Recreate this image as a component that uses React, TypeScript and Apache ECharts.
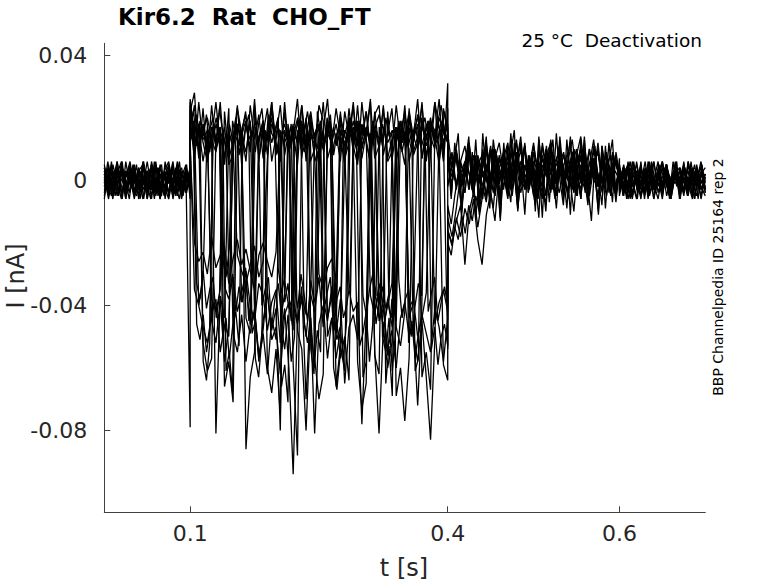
import React, { useEffect, useRef } from "react";
import * as echarts from "echarts";

// Sweep values in pA (1e-3 nA); each sweep has four recorded segments:
// pre 0–0.1 s, step 0.1–0.4 s, tail 0.4–0.6 s, post 0.6–0.7 s
const segmentWindows: [number, number][] = [
  [0, 0.1],
  [0.1, 0.4],
  [0.4, 0.6],
  [0.6, 0.7],
];

const sweep1 = {
  pre: [2, -4, 5, -1, -6, 3, 0, -5, 4, -2, 6, -3, 1, -6, 2, -1, 5, -4, 3, -2, 0],
  step: [16, 24, 7, 18, 6, 14, 25, 11, 17, 5, 8, 23, 15, 6, 24, 13, 21, 7, 15, 25, 8, 16, -32, -41, -37, 14, 24, 6, 20, 13, 5, 16, 26, 8, 15, 6, 22, 14, 25, 7, 16, 13, 5, 21, 24, 8, 15, 23, 6, 14, 22, -44, -39, 12, 24, 7, 19, 14, 5, 23, 15],
  tail: [7, 1, 9, -3, 4, 12, 0, 6, -5, 3, 10, -1, 8, 2, -6, 5, 13, 1, -3, 7, 4, -2, 11, 3, -4, 6, 9, 0, 5, -3, 8, 14, 2, -5, 4, 10, -1, 6, 3, -4, 2],
  post: [-3, 4, -6, 1, 5, -2, 3, -5, 0, 6, -4, 2, -1, 5, -6, 3, -3, 4, 1, -5, 2],
};
const sweep2 = {
  pre: [-3, 1, -6, 4, 0, -2, 5, -5, 2, -1, 3, -6, 4, -3, 1, 5, -4, 0, -5, 3, -2],
  step: [25, 8, 17, 6, 15, -38, -42, -35, 22, 7, 12, 24, 5, 18, 9, 26, 7, 15, 23, 6, 14, 24, 8, 16, -40, -46, -37, -43, 21, 6, 10, 25, 7, 12, 23, 14, 5, 20, 9, 24, 7, 15, 26, -36, -44, -39, 22, 6, 17, 10, 24, 6, 13, 21, 7, 18, 14, 25, 6, 16, 13],
  tail: [4, 9, -2, 6, 1, 11, -4, 5, 8, 0, -3, 7, 12, 2, -5, 6, 3, 10, -2, 4, 9, -6, 5, 1, 13, -1, 7, 3, -4, 8, 2, 11, 0, -3, 6, 9, 1, -5, 4, 7, 0],
  post: [4, -1, 3, -5, 6, -3, 0, 4, -6, 2, 5, -2, -4, 3, 1, -5, 6, -1, 2, -3, 0],
};
const sweep3 = {
  pre: [5, -2, 1, -5, 3, -6, 4, 0, -3, 6, -1, 2, -4, 5, -2, -6, 1, 4, -3, 2, 1],
  step: [14, 18, 11, 16, 20, 13, 9, 17, -34, -38, -31, -42, -36, -29, -40, -45, -33, -37, -48, -39, -35, -52, -41, -60, -94, -44, -38, -50, -36, -42, -31, -47, 15, 12, 18, 10, 16, 13, 19, 11, 17, 14, -37, -43, -33, -40, -56, -38, -45, 16, 12, 19, 14, 10, 17, 13, 20, 11, 15, 18, 12],
  tail: [-2, 5, 10, 1, -4, 8, 3, -1, 6, 12, 0, -5, 4, 9, 2, -3, 7, 11, -2, 5, 1, -6, 8, 3, 10, -1, 4, -4, 6, 13, 2, -3, 7, 0, 5, 9, -2, 3, -5, 6, 1],
  post: [-1, 3, -4, 6, 0, -5, 2, 4, -3, 1, -6, 5, -2, 3, 0, -4, 6, -1, -5, 2, 4],
};
const sweep4 = {
  pre: [-5, 2, -1, 4, -4, 1, 6, -3, 0, -6, 3, -2, 5, -1, -5, 2, -3, 6, 0, -4, 3],
  step: [13, 17, -40, -47, -52, -43, -38, -55, -46, -50, 14, 18, 10, -44, -49, -41, -58, -45, -36, -51, -47, -62, -43, -39, -48, 16, 12, 19, -42, -81, -46, -40, -57, -44, -49, -38, -65, -47, -43, -51, 13, 17, 11, 15, -45, -41, -54, -48, -60, -44, -39, -50, -46, -72, -43, -49, -55, -41, -47, -58, -44],
  tail: [-16, -21, -12, -18, -9, -14, -6, -19, -27, -11, -4, -13, 3, -2, 6, 1, 9, -2, 5, 0, 11, 3, -4, 7, 2, -1, 8, 4, -6, 5, 10, 1, -3, 6, 2, 12, -1, 4, -5, 7, 3],
  post: [2, -5, 4, -2, 0, 5, -4, 3, -6, 1, 4, -1, -3, 6, -2, 0, 3, -5, 5, -3, 1],
};
const sweep5 = {
  pre: [1, -6, 3, -2, 5, -4, 0, 2, -5, 4, -1, -3, 6, -6, 1, 3, -2, 5, -4, 0, -1],
  step: [18, 12, 15, -52, -61, -57, 14, 17, -66, -58, -71, 11, 16, -86, -63, -55, 13, 19, -60, -68, -54, -75, 15, 12, -59, -88, 17, 10, 14, -57, -70, -62, 16, 13, -66, -53, -61, 18, 11, -58, -73, -65, 14, -56, -62, 17, 12, 15, -69, -60, -77, -57, 13, 18, -63, -55, -67, 16, 11, -59, -64],
  tail: [5, -1, 8, 3, -4, 10, 2, 6, -2, 4, 11, -5, 7, 1, 9, -3, 5, 14, 0, -2, 6, 3, -6, 8, 12, 1, -4, 5, 9, -1, 3, 7, -3, 10, 2, -5, 6, 4, -1, 8, 2],
  post: [-4, 2, 5, -1, -6, 3, 0, -3, 6, -2, 4, -5, 1, 3, -4, 5, -1, -6, 2, 0, -2],
};
const sweep6 = {
  pre: [0, 4, -3, 6, -5, 2, -1, -4, 3, 5, -6, 1, -2, 4, -3, 0, 6, -5, 2, -1, 4],
  step: [22, 28, 8, 23, 6, 17, 11, 25, 7, 16, 10, -24, -29, -33, -27, -21, -31, -26, 7, 23, 12, 6, 25, 9, 16, 5, 24, 11, 17, 8, -30, -35, -28, -25, -32, 22, 7, 12, 24, 6, 18, 14, 25, 7, 11, 23, 6, 9, 24, 12, 5, 22, 14, 26, 7, 15, 8, 25, 17, 6, 23],
  tail: [9, 3, -1, 6, 11, 2, -4, 7, 1, 5, -2, 10, 4, -3, 8, 0, 6, 12, -1, 3, -5, 7, 2, 9, -2, 4, 11, 0, -4, 6, 3, 8, -1, 5, 13, 1, -3, 7, 2, -2, 4],
  post: [3, -2, 5, -4, 1, -6, 4, 0, -3, 2, 6, -1, -5, 3, -2, 5, 0, -4, 1, 4, -3],
};
const sweep7 = {
  pre: [-2, 5, -4, 1, 3, -6, 2, -1, 4, -3, 0, 5, -5, 2, -2, 3, -6, 1, 4, -3, -1],
  step: [10, -20, -26, -23, -30, -18, -28, -24, -21, -33, -25, -19, -27, -22, -29, -35, -24, -20, -26, -31, -23, 14, 18, 11, 16, 12, 19, 10, 15, 13, 17, -38, -45, -34, -41, 14, 11, 17, 13, 18, 10, 16, 12, -42, -36, -48, -39, -44, 15, 19, 12, 16, 9, 14, 18, 11, 17, 13, 20, 15, 12],
  tail: [3, 8, -3, 5, 1, 10, -2, 6, 4, -5, 9, 2, -1, 7, 12, 0, 5, -4, 3, 8, -2, 6, 1, 11, -3, 4, 7, -1, 2, 9, -5, 5, 3, 10, 0, -2, 6, 4, -4, 7, 1],
  post: [1, -4, 6, -2, 3, -5, 0, 4, -1, -6, 2, 5, -3, 1, -2, 4, -5, 3, 0, 6, -3],
};
const sweep8 = {
  pre: [4, -1, -5, 2, 6, -3, 1, -6, 3, 0, -4, 5, -2, 2, -5, 4, -1, 3, -6, 1, 2],
  step: [15, 11, 18, 13, 16, -45, -52, -38, -58, -47, 12, 17, 14, 9, 19, -41, -56, -49, -62, -44, -51, 13, 16, 11, 18, -48, -54, -80, -46, -59, 14, 10, 17, 12, -43, -57, -50, -64, 15, 19, 11, 16, 13, -55, -81, -47, -60, -52, 12, 18, 14, 10, -49, -58, -45, -63, -83, -51, 16, 13, -54],
  tail: [-12, -18, -9, 2, 6, -3, 8, 1, 4, -6, 10, 3, -1, 7, -4, 5, 12, 0, 2, -3, 9, 4, -2, 6, 11, -5, 3, 8, 0, -1, 5, 10, -4, 2, 7, -2, 4, 9, 1, -3, 3],
  post: [-3, 1, 4, -5, 2, -1, 6, -4, 0, 3, -2, 5, -6, 2, 4, -3, 1, -5, 3, -1, 2],
};
const sweep9 = {
  pre: [3, -5, 0, 6, -2, -4, 2, 5, -6, 1, -3, 4, 0, -5, 3, 6, -2, -4, 1, 5, -3],
  step: [19, 7, 25, 12, 6, 24, 10, 15, 5, 23, -49, -55, -43, -58, -46, 24, 6, 19, 8, 25, 11, 6, 22, 9, 15, 26, 7, 20, 6, 10, 24, 19, -50, -44, -57, -48, 7, 23, 11, 5, 25, 12, 6, 22, 10, 24, 7, 13, -47, -53, -42, 23, 8, 12, 25, 6, 18, 14, 26, 7, 31],
  tail: [15, 4, 9, -2, 6, 2, -5, 8, 3, 11, -1, 5, 0, 7, -4, 10, 2, 6, -3, 4, 12, 1, -2, 8, 3, -6, 5, 9, 0, 6, -3, 3, 10, -1, 7, 2, -4, 5, 8, -2, 1],
  post: [-1, 5, -3, 2, 0, -5, 4, -2, 6, -4, 1, 3, -6, 2, -1, 5, -3, 0, 4, -2, -5],
};
const sweep10 = {
  pre: [-4, 3, 1, -2, 5, -5, 0, 4, -3, 2, -6, 6, -1, -4, 3, 1, -5, 2, -2, 4, -79],
  step: [13, -35, -40, -31, 17, 12, -81, -37, -44, 15, 11, 18, -39, -33, -46, -42, 14, 19, -36, -48, -41, -80, 12, 16, -38, -45, -34, -70, -40, 15, 18, 13, -44, -37, -49, 16, 11, -35, -42, -39, -78, -43, 14, 17, -36, -47, -40, -33, 12, 18, 15, -41, -38, -50, -44, -36, 16, -46, -39, -35, -42],
  tail: [-16, -20, -13, -8, -27, -10, -4, -15, -6, 2, -3, 5, -1, 8, 3, -5, 6, 1, 10, -2, 4, -4, 7, 2, 12, -1, 5, 0, -3, 9, 3, -5, 6, 1, 11, -2, 4, 8, -1, 3, 0],
  post: [5, -3, 0, -6, 3, 1, -4, 6, -2, 2, -5, 4, 0, -1, 3, -4, 5, -3, 2, -6, 1],
};
const sweep11 = {
  pre: [-6, 2, 4, -3, 1, -5, 6, -1, 3, -4, 0, 5, -2, -6, 2, 4, -3, 1, -5, 3, -2, 6, -4, 0, 2],
  step: [24, 16, 11, 19, 14, 21, 9, 17, 12, 23, 15, 10, 18, 13, 20, 8, 16, 22, 11, 14, 19, 12, 17, 9, 21, 15, 13, -28, -36, -31, 18, 11, 16, 20, 13, 9, 17, 22, 14, 10, 19, 12, 16, 21, 8, 15, 18, 13, 11, 20, 14, 17, 9, 16, 22, 12, 19, 15, 10, 18, 13, -41, -47, -38, 16, 12, 20, 14, 9, 17, 21, 11, 15, 19, 13, 10, 18, 14, 22, 16],
  tail: [8, -6, 12, 2, -9, 5, 14, -3, 7, -11, 10, 1, -5, 13, 4, -8, 9, -2, 15, 3, -10, 6, 11, -4, 8, 0, -12, 12, 5, -7, 9, -1, 14, 2, -9, 6, 10, -5, 13, 1, -8, 7, 3, -11, 11, 4, -3, 9, -6, 5],
  post: [3, -5, 1, 6, -2, -6, 4, 0, -3, 5, -4, 2, 6, -1, -5, 3, 1, -6, 4, -2, 0, 5, -3, 2, -4],
};
const sweep12 = {
  pre: [2, -3, 6, -5, 0, 4, -1, -6, 3, 1, -4, 5, -2, 2, -6, 4, 0, -3, 5, -1, -5, 3, 1, -4, 2],
  step: [14, 19, -33, -38, -29, -41, -35, -31, -44, -37, 15, 11, -36, -30, -42, -34, -39, -28, -45, -33, 17, 13, -40, -35, -31, -47, -38, -33, -43, -36, 12, 18, -34, -41, -30, -37, -45, -32, -39, -35, 16, -42, -36, -31, -48, -38, -34, -44, -40, -33, 14, 19, 11, -37, -43, -35, -30, -46, -39, -34, -41, -36, 13, 17, -32, -44, -38, -35, -50, -40, -33, -37, 15, -42, -36, -31, -45, -39, -34, -40],
  tail: [-8, -14, -5, 2, -10, 6, -3, 9, -12, 1, -6, 11, -2, -9, 4, -13, 7, 0, -7, 12, -4, 3, -11, 8, -1, -8, 5, -12, 10, -3, 2, -9, 6, -5, 13, -1, -10, 4, -6, 9, -2, -13, 7, 1, -8, 11, -4, 3, -7, 5],
  post: [-5, 1, 4, -2, 6, -4, 0, 3, -6, 2, -1, 5, -3, 1, -5, 6, -2, 4, 0, -4, 3, -6, 2, 5, -1],
};
const sweep13 = {
  pre: [4, -2, -5, 3, 0, 6, -4, 2, -1, 5, -6, 1, 3, -3, 6, -5, 0, 2, -4, 4, -2, -6, 3, 1, -3],
  step: [18, 22, 13, 17, -58, -64, -52, 15, 20, 12, 16, -61, -55, -68, 14, 19, 11, 17, 21, 13, -57, -63, -50, 16, 12, 18, 15, 20, -66, -59, -71, 14, 17, 11, 19, 13, 16, -54, -62, 22, 15, 12, 18, 14, -60, -67, -56, 13, 17, 20, 11, 16, 19, -63, -58, 15, 12, 18, 21, 14, -65, -53, -69, 16, 13, 19, 11, 17, 15, -61, -57, 20, 14, 12, 18, 16, 13, 19, 15, 17],
  tail: [12, -4, 7, 15, -8, 3, 10, -2, 13, -6, 5, 14, -9, 8, 1, -5, 12, -3, 9, 16, -7, 4, 11, -1, 6, -10, 13, 2, -5, 10, -3, 15, 0, -8, 7, 12, -4, 9, -1, 14, -6, 5, 11, -2, 8, -9, 6, 13, -5, 4],
  post: [-2, 4, -6, 1, 5, -3, 2, -5, 6, 0, -4, 3, -1, 5, -6, 2, 4, -3, 0, -5, 6, -2, 1, 3, -4],
};
const sweep14 = {
  pre: [0, -4, 5, -1, 3, -6, 2, 4, -3, -5, 1, 6, -2, 0, -4, 3, 5, -6, 2, -1, 4, -3, -5, 1, 0],
  step: [16, 12, -46, -51, -43, -55, -48, 14, 18, 11, -50, -44, -57, -47, -42, -53, 15, 19, 13, -49, -45, -56, -52, -41, 17, 12, 16, 20, -47, -54, -43, -58, -50, 13, 18, -46, -52, -44, -60, -48, -55, 11, 15, 19, -43, -51, -47, -57, -45, 14, 17, 12, -53, -49, -42, -58, -46, 16, 13, -50, -55, -44, -61, -48, 18, 12, 15, -52, -45, -57, -49, -43, 14, 19, -54, -47, -59, -50, -46, -53],
  tail: [-20, -24, -15, -19, -11, -17, -8, -13, -5, -10, -2, -7, 3, -4, 8, -6, 2, 11, -3, 6, -9, 4, 12, -1, 7, -5, 10, 0, -8, 5, 13, -2, 9, -6, 3, 14, -4, 8, -1, 11, -7, 6, 2, -10, 9, -3, 12, 1, -5, 7],
  post: [3, -1, -5, 4, 1, -3, 6, -6, 2, 0, -4, 5, -2, 3, -5, 1, 4, -1, 6, -4, 0, 2, -6, 5, -3],
};
const sweep15 = {
  pre: [-1, 6, -3, 2, -5, 4, 0, -4, 5, -2, 3, -6, 1, 4, -3, 2, -5, 6, -1, 0, -4, 3, -2, 5, -6],
  step: [26, 17, 21, 13, 18, 10, 16, 20, 12, 15, -25, -31, -22, 19, 14, 11, 17, 21, 13, 16, 9, 18, 23, 12, 15, 20, 11, 17, 14, -39, -33, -45, 13, 19, 10, 16, 22, 14, 12, 18, 15, 9, 20, 13, 17, 11, 21, 16, 12, 19, 14, 10, 18, 15, 22, 13, -30, -37, 17, 11, 20, 14, 16, 12, 19, 9, 15, 21, 13, 18, 11, 16, 20, 14, 17, 12, 19, 24, 15, 18],
  tail: [14, -5, 9, 3, -11, 6, 12, -3, 8, -8, 15, 1, -6, 10, 4, -12, 7, -1, 13, 2, -9, 5, 11, -4, 9, -7, 14, 0, -10, 8, 3, -5, 12, -2, 6, -11, 10, 1, -6, 13, -3, 7, 4, -9, 11, -1, 5, -7, 9, 2],
  post: [4, -3, 1, -6, 5, 0, -2, 3, -5, 6, -1, 2, -4, 5, -3, 0, 6, -5, 1, -2, 4, -6, 3, -1, 2],
};

const sweeps = [sweep1, sweep2, sweep3, sweep4, sweep5, sweep6, sweep7, sweep8, sweep9, sweep10, sweep11, sweep12, sweep13, sweep14, sweep15];

const xTickValues = [0.1, 0.4, 0.6];
const xTickLabels = ["0.1", "0.4", "0.6"];
const yTickValues = [-0.08, -0.04, 0, 0.04];
const yTickLabels = ["-0.08", "-0.04", "0", "0.04"];
const xRange = [0, 0.7];
const yRange = [-0.1062, 0.0438];

const titleText = "Kir6.2  Rat  CHO_FT";
const conditionText = "25 °C  Deactivation";
const sideText = "BBP Channelpedia ID 25164 rep 2";
const xLabel = "t [s]";
const yLabel = "I [nA]";

function buildSweep(s: { pre: number[]; step: number[]; tail: number[]; post: number[] }) {
  const segs = [s.pre, s.step, s.tail, s.post];
  const pts: [number, number][] = [];
  segs.forEach((seg, k) => {
    const [t0, t1] = segmentWindows[k];
    seg.forEach((v, i) => {
      pts.push([t0 + ((t1 - t0) * i) / (seg.length - 1), v / 1000]);
    });
  });
  return pts;
}

function labelFor(values: number[], labels: string[], v: number) {
  const idx = values.findIndex((x) => Math.abs(x - v) < 1e-9);
  return idx >= 0 ? labels[idx] : "";
}

export default function App() {
  const ref = useRef<HTMLDivElement>(null);
  useEffect(() => {
    if (!ref.current) return;
    const chart = echarts.init(ref.current, null, { renderer: "svg" });
    const font = "'DejaVu Sans', sans-serif";
    const axisColor = "#404040";
    chart.setOption({
      animation: false,
      backgroundColor: "#ffffff",
      grid: { left: 104.3, right: 72.7, top: 43.3, bottom: 70.7 },
      xAxis: {
        type: "value",
        min: xRange[0],
        max: xRange[1],
        axisLine: { show: true, onZero: false, lineStyle: { color: axisColor, width: 1 } },
        axisTick: { show: true, inside: true, length: 6, customValues: xTickValues, lineStyle: { color: axisColor } },
        axisLabel: {
          show: true,
          customValues: xTickValues,
          formatter: (v: number) => labelFor(xTickValues, xTickLabels, v),
          fontFamily: font,
          fontSize: 22,
          color: "#262626",
          margin: 10,
        },
        splitLine: { show: false },
      },
      yAxis: {
        type: "value",
        min: yRange[0],
        max: yRange[1],
        axisLine: { show: true, onZero: false, lineStyle: { color: axisColor, width: 1 } },
        axisTick: { show: true, inside: true, length: 6, customValues: yTickValues, lineStyle: { color: axisColor } },
        axisLabel: {
          show: true,
          customValues: yTickValues,
          formatter: (v: number) => labelFor(yTickValues, yTickLabels, v),
          fontFamily: font,
          fontSize: 22,
          color: "#262626",
          margin: 17,
        },
        splitLine: { show: false },
      },
      series: sweeps.map((s, i) => ({
        type: "line",
        name: "sweep" + (i + 1),
        data: buildSweep(s),
        showSymbol: false,
        symbol: "none",
        silent: true,
        lineStyle: { color: "#000000", width: 1.3 },
      })),
      graphic: [
        {
          type: "text",
          x: 118,
          y: 17,
          style: { text: titleText, fontFamily: font, fontSize: 23, fontWeight: "bold", fill: "#000", align: "left", verticalAlign: "middle" },
        },
        {
          type: "text",
          x: 702,
          y: 40.5,
          style: { text: conditionText, fontFamily: font, fontSize: 18.5, fill: "#000", align: "right", verticalAlign: "middle" },
        },
        {
          type: "text",
          x: 718,
          y: 277,
          rotation: Math.PI / 2,
          style: { text: sideText, fontFamily: font, fontSize: 14, fill: "#000", align: "center", verticalAlign: "middle" },
        },
        {
          type: "text",
          x: 404,
          y: 568,
          style: { text: xLabel, fontFamily: font, fontSize: 24, fill: "#262626", align: "center", verticalAlign: "middle" },
        },
        {
          type: "text",
          x: 16,
          y: 276,
          rotation: Math.PI / 2,
          style: { text: yLabel, fontFamily: font, fontSize: 24, fill: "#262626", align: "center", verticalAlign: "middle" },
        },
      ],
    });
    return () => chart.dispose();
  }, []);
  return (
    <div
      ref={ref}
      style={{ position: "fixed", left: 0, top: 0, width: 778, height: 583, background: "#fff" }}
    />
  );
}
